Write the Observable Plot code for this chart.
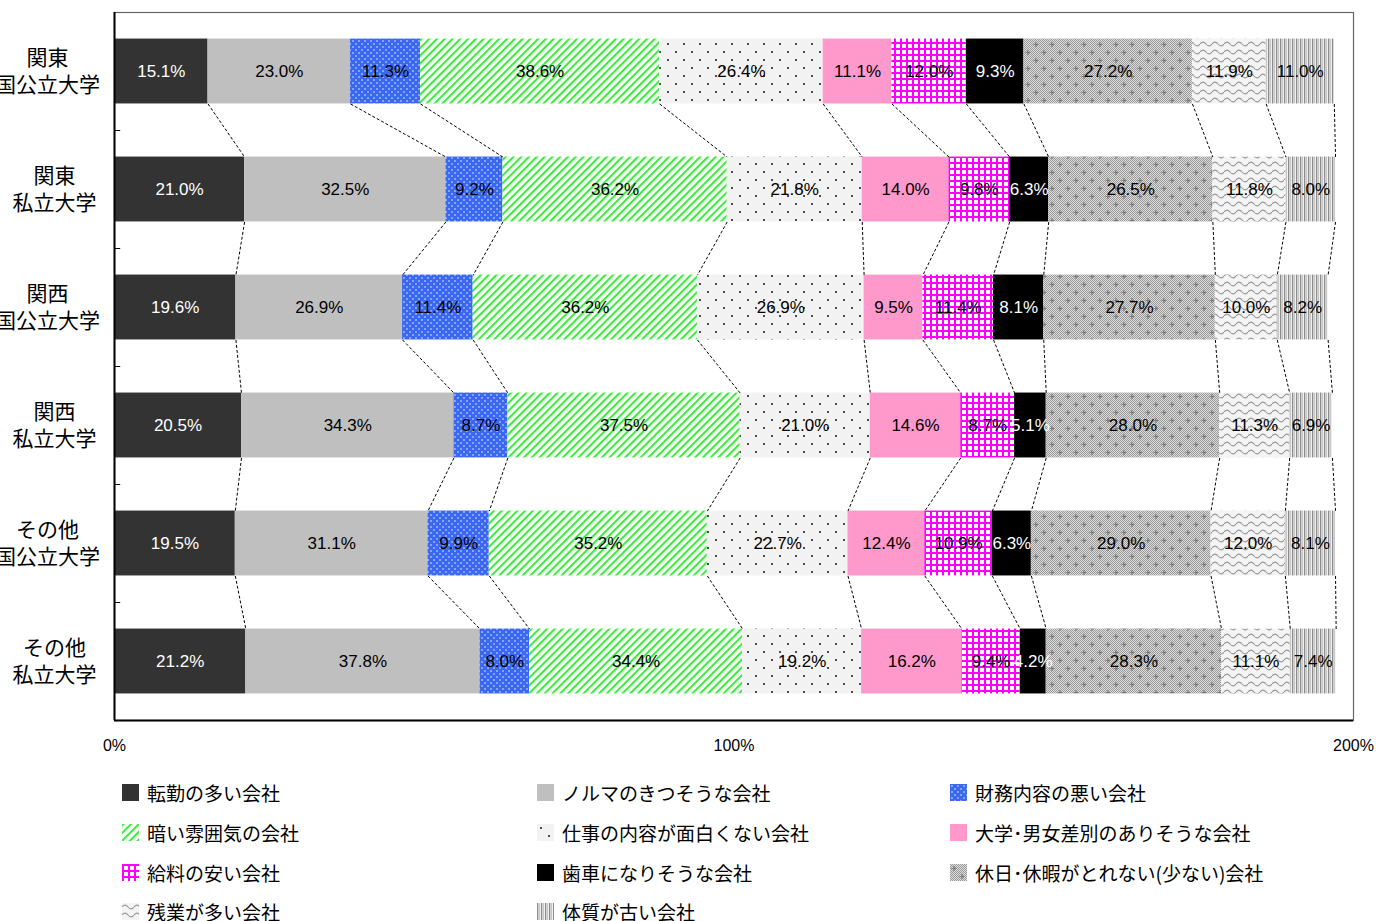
<!DOCTYPE html>
<html><head><meta charset="utf-8">
<script src="https://cdn.jsdelivr.net/npm/d3@7"></script>
<script src="https://cdn.jsdelivr.net/npm/@observablehq/plot@0.6"></script>
<style>
body{margin:0;background:#fff;}
#wrap{position:relative;width:1376px;height:921px;overflow:hidden;background:#fff}
#legend{position:absolute;left:122px;top:773px;display:grid;grid-template-columns:415px 413px 413px;grid-auto-rows:39.7px;font-family:"Noto Sans CJK JP",sans-serif;font-size:19px;color:#000}
.item{display:flex;align-items:center;gap:8px;white-space:nowrap}
.item svg{flex:none}
</style></head><body><div id="wrap"><div id="chart"></div><div id="legend"></div></div>
<script>
// ---- data ----
const universities = [
  ["関東","国公立大学"],
  ["関東","私立大学"],
  ["関西","国公立大学"],
  ["関西","私立大学"],
  ["その他","国公立大学"],
  ["その他","私立大学"]
];
const seriesNames = [
  "転勤の多い会社","ノルマのきつそうな会社","財務内容の悪い会社",
  "暗い雰囲気の会社","仕事の内容が面白くない会社","大学･男女差別のありそうな会社",
  "給料の安い会社","歯車になりそうな会社","休日･休暇がとれない(少ない)会社",
  "残業が多い会社","体質が古い会社"
];
const kantoPublic  = [15.1, 23.0, 11.3, 38.6, 26.4, 11.1, 12.0, 9.3, 27.2, 11.9, 11.0];
const kantoPrivate = [21.0, 32.5,  9.2, 36.2, 21.8, 14.0,  9.8, 6.3, 26.5, 11.8,  8.0];
const kansaiPublic = [19.6, 26.9, 11.4, 36.2, 26.9,  9.5, 11.4, 8.1, 27.7, 10.0,  8.2];
const kansaiPrivate= [20.5, 34.3,  8.7, 37.5, 21.0, 14.6,  8.7, 5.1, 28.0, 11.3,  6.9];
const otherPublic  = [19.5, 31.1,  9.9, 35.2, 22.7, 12.4, 10.9, 6.3, 29.0, 12.0,  8.1];
const otherPrivate = [21.2, 37.8,  8.0, 34.4, 19.2, 16.2,  9.4, 4.2, 28.3, 11.1,  7.4];
const xTicks = [0, 100, 200];

// ---- styles ----
const seriesFills = ["#333333","#bfbfbf","url(#pBlue)","url(#pGreen)","url(#pDots)","#ff99cc",
  "url(#pGrid)","#000000","url(#pHoliday)","url(#pWave)","url(#pVert)"];
const labelFills = ["#ffffff","#000","#000","#000","#000","#000","#000","#ffffff","#000","#000","#000"];

const rowsData = [kantoPublic, kantoPrivate, kansaiPublic, kansaiPrivate, otherPublic, otherPrivate];
const half = 0.275;

const segs = [];
const ends = rowsData.map(() => []);
rowsData.forEach((vals, r) => {
  let acc = 0;
  vals.forEach((v, s) => {
    segs.push({r, s, v, x1: acc, x2: acc + v});
    acc += v;
    ends[r][s] = acc;
  });
});
const links = [];
for (let r = 0; r < rowsData.length - 1; r++) {
  for (let s = 0; s < seriesNames.length; s++) {
    links.push({xa: ends[r][s], ya: r + half, xb: ends[r+1][s], yb: r + 1 - half});
  }
}
const labelRows = universities.map((u, i) => ({i, text: u.join("\n"), wide: d3.max(u, t => t.length)}));

const chart = Plot.plot({
  width: 1376, height: 770,
  marginLeft: 114, marginRight: 23, marginTop: 12, marginBottom: 50,
  style: {fontFamily: "'Liberation Sans', Arial, sans-serif", fontSize: "16px", background: "white", color: "#000", overflow: "visible"},
  x: {domain: [0, 200], axis: null},
  y: {domain: [-0.5, 5.5], reverse: true, axis: null},
  marks: [
    Plot.frame({stroke: "#666", strokeWidth: 1.2}),
    Plot.rect(segs, {x1: "x1", x2: "x2", y1: d => d.r - half, y2: d => d.r + half, fill: d => seriesFills[d.s]}),
    Plot.link(links, {x1: "xa", y1: "ya", x2: "xb", y2: "yb", stroke: "#000", strokeWidth: 1, strokeDasharray: "3,2"}),
    Plot.text(segs, {x: d => (d.x1 + d.x2) / 2, y: "r", text: d => d.v.toFixed(1) + "%", fill: d => labelFills[d.s], fontSize: 17}),
    Plot.ruleX([0], {stroke: "#000", strokeWidth: 2}),
    Plot.ruleY([5.5], {stroke: "#000", strokeWidth: 2}),
    Plot.ruleY([0.5, 1.5, 2.5, 3.5, 4.5], {x1: 0, x2: 1, stroke: "#000"}),
    Plot.axisX({ticks: xTicks, tickSize: 0, tickPadding: 19, tickFormat: d => d + "%", fontSize: 16, anchor: "bottom"}),
    Plot.text(labelRows.filter(d => d.wide >= 5), {y: "i", text: "text", frameAnchor: "left", dx: -67, dy: -2, textAnchor: "middle", fontSize: 21, lineHeight: 1.3, fontFamily: "'Noto Sans CJK JP', sans-serif"}),
    Plot.text(labelRows.filter(d => d.wide < 5), {y: "i", text: "text", frameAnchor: "left", dx: -60, dy: -2, textAnchor: "middle", fontSize: 21, lineHeight: 1.3, fontFamily: "'Noto Sans CJK JP', sans-serif"})
  ]
});

// ---- pattern definitions ----
const defs = d3.select(chart).insert("defs", ":first-child");
function pat(id, w, h) {
  return defs.append("pattern").attr("id", id).attr("patternUnits", "userSpaceOnUse").attr("width", w).attr("height", h);
}
function rect(p, x, y, w, h, fill) { p.append("rect").attr("x", x).attr("y", y).attr("width", w).attr("height", h).attr("fill", fill); }
let p;
p = pat("pBlue", 6, 6); rect(p, 0, 0, 6, 6, "#3a68f2"); rect(p, 1, 1, 2, 2, "#86a3ff"); rect(p, 4, 4, 2, 2, "#86a3ff");
p = pat("pGreen", 5.5, 5.5).attr("patternTransform", "rotate(45)"); rect(p, 0, 0, 5.5, 5.5, "#f4fff4"); rect(p, 0, 0, 2, 5.5, "#3ee83e");
p = pat("pDots", 16, 16); rect(p, 0, 0, 16, 16, "#f2f2f2"); rect(p, 3, 3, 2, 2, "#4d4d4d"); rect(p, 11, 11, 2, 2, "#4d4d4d");
p = pat("pGrid", 6, 6); rect(p, 0, 0, 6, 6, "#ffffff"); rect(p, 0, 0, 2, 6, "#ff00ff"); rect(p, 0, 0, 6, 2, "#ff00ff");
p = pat("pChk", 2, 2); rect(p, 0, 0, 2, 2, "#dddddd"); rect(p, 0, 0, 1, 1, "#999999"); rect(p, 1, 1, 1, 1, "#999999");
p = pat("pHoliday", 16, 16); rect(p, 0, 0, 16, 16, "url(#pChk)");
p.append("path").attr("d", "M4 2v5M1.5 4.5h5M12 10v5M9.5 12.5h5").attr("stroke", "#7a7a7a").attr("stroke-width", 1.2);
p = pat("pWave", 12, 8); rect(p, 0, 0, 12, 8, "#f4f4f4");
p.append("path").attr("d", "M0 4 C2 1.5 4 1.5 6 4 S10 6.5 12 4").attr("fill", "none").attr("stroke", "#999").attr("stroke-width", 1.2);
p = pat("pVert", 4, 4); rect(p, 0, 0, 4, 4, "#f0f0f0"); rect(p, 0, 0, 1.3, 4, "#8c8c8c"); rect(p, 2, 0, 0.8, 4, "#bdbdbd");

document.getElementById("chart").appendChild(chart);

// ---- legend ----
const legend = d3.select("#legend");
seriesNames.forEach((name, s) => {
  const item = legend.append("div").attr("class", "item");
  const sw = item.append("svg").attr("width", 17).attr("height", 17);
  sw.append("rect").attr("width", 17).attr("height", 17).attr("fill", seriesFills[s]);
  item.append("span").text(name);
});
</script>
</body></html>
